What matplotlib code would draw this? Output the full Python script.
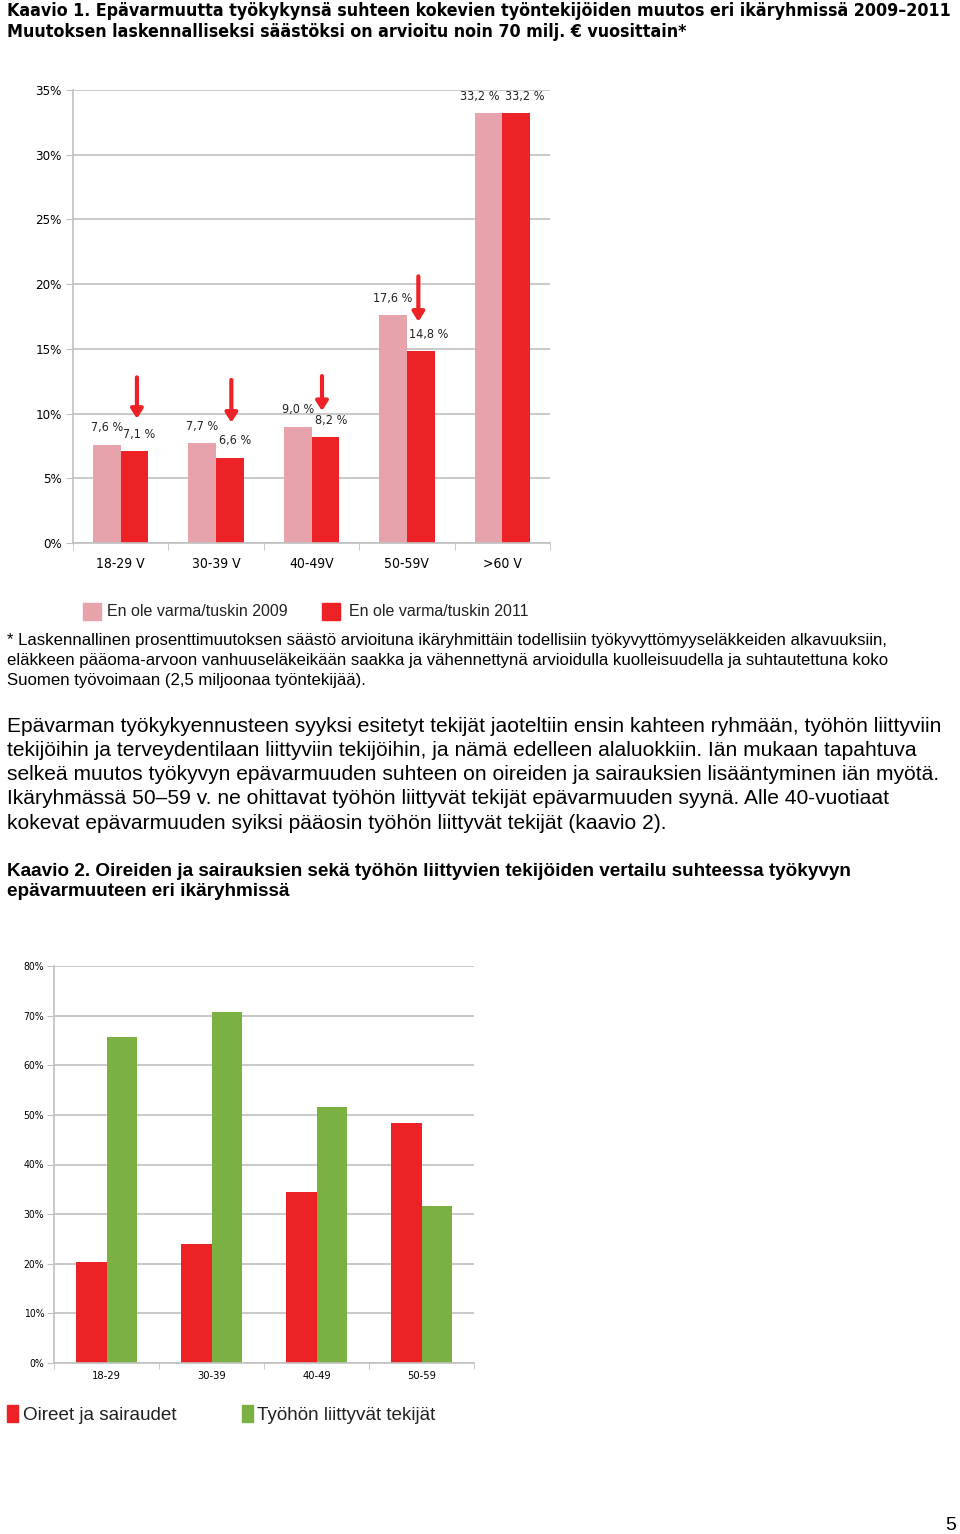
import matplotlib
matplotlib.use("Agg")
import matplotlib.pyplot as plt
from matplotlib import font_manager as fm
import numpy as np

# chart 1 data
groups1 = ["18-29 V", "30-39 V", "40-49V", "50-59V", ">60 V"]
v2009 = [7.6, 7.7, 9.0, 17.6, 33.2]
v2011 = [7.1, 6.6, 8.2, 14.8, 33.2]
labels2009 = ["7,6 %", "7,7 %", "9,0 %", "17,6 %", "33,2 %"]
labels2011 = ["7,1 %", "6,6 %", "8,2 %", "14,8 %", "33,2 %"]
# arrows showing the drop: (x in category units, top %, tip %)
arrows = [(0.17, 12.8, 9.6), (1.16, 12.6, 9.3), (2.11, 12.9, 10.2), (3.12, 20.6, 17.1)]

# chart 2 data
groups2 = ["18-29", "30-39", "40-49", "50-59"]
oireet = [20.3, 24.0, 34.5, 48.3]
tyo = [65.7, 70.7, 51.5, 31.6]

PINK = "#E6A3AB"
RED = "#EC2227"
GREEN = "#7AB142"
GRID = "#C0C0C0"
TXT = "#222222"


# look for a narrow / condensed face, otherwise plain Liberation Sans
def find_narrow(bold):
    for f in fm.fontManager.ttflist:
        cond = ("Narrow" in f.name or "Condensed" in f.name
                or f.stretch in ("condensed", "semi-condensed", "extra-condensed")
                or (isinstance(f.stretch, int) and f.stretch < 500))
        w = f.weight if isinstance(f.weight, int) else (700 if "bold" in str(f.weight) else 400)
        if cond and (w >= 600) == bold and f.style == "normal":
            return fm.FontProperties(fname=f.fname)
    return fm.FontProperties(family=["Liberation Sans", "DejaVu Sans"],
                             weight="bold" if bold else "normal")


NARROW = find_narrow(False)
NARROW_B = find_narrow(True)
SANS = fm.FontProperties(family=["Liberation Sans", "DejaVu Sans"])
SANS_B = fm.FontProperties(family=["Liberation Sans", "DejaVu Sans"], weight="bold")

W, H = 960, 1534
fig = plt.figure(figsize=(W / 100, H / 100), dpi=100)
renderer = fig.canvas.get_renderer()


def size_for(s, target_px, fp):
    # font size that makes string s about target_px wide
    t = fig.text(0, 0, s, fontproperties=fp.copy())
    t.set_fontsize(10)
    w = t.get_window_extent(renderer).width
    t.remove()
    return 10 * target_px / w


def fprop(fp, size):
    p = fp.copy()
    p.set_size(size)
    return p


def fy(py):
    return 1 - py / H


def style_axes(ax, ymax, step, fs, pad):
    ticks = np.arange(0, ymax + 0.1, step)
    ax.set_ylim(0, ymax)
    ax.set_yticks(ticks)
    ax.set_yticklabels([f"{int(t)}%" for t in ticks], fontproperties=fprop(NARROW, fs))
    ax.yaxis.grid(True, color=GRID, lw=1.2)
    ax.set_axisbelow(True)
    for s in ["top", "right"]:
        ax.spines[s].set_visible(False)
    for s in ["left", "bottom"]:
        ax.spines[s].set_color(GRID)
        ax.spines[s].set_linewidth(1.2)
    ax.tick_params(axis="y", length=5, color=GRID, pad=pad)
    ax.tick_params(axis="x", length=0)


# ---- chart 1
ax1 = fig.add_axes([73 / W, fy(543), (550 - 73) / W, (543 - 90) / H])
x1 = np.arange(len(groups1))
bw = 0.29
ax1.bar(x1 - bw / 2, v2009, bw, color=PINK, zorder=2)
ax1.bar(x1 + bw / 2, v2011, bw, color=RED, zorder=2)
ax1.set_xlim(-0.5, len(groups1) - 0.5)
style_axes(ax1, 35, 5, 9.5, 3)
ax1.set_xticks(x1)
ax1.set_xticklabels(groups1, fontproperties=fprop(NARROW, 10))
ax1.set_xticks(np.arange(-0.5, len(groups1)), minor=True)
ax1.tick_params(axis="x", which="minor", length=5, color=GRID)
ax1.tick_params(axis="x", which="major", pad=10)

vfs = 9
pink_dx = [0, 0, 0, 0, -9]
red_dx = [5, 5, 6, 8, 9]
for i in range(len(groups1)):
    ax1.annotate(labels2009[i], (x1[i] - bw / 2, v2009[i]), xytext=(pink_dx[i] * 0.72, 12),
                 textcoords="offset points", ha="center", va="center",
                 fontproperties=fprop(NARROW, vfs), color=TXT)
    ax1.annotate(labels2011[i], (x1[i] + bw / 2, v2011[i]), xytext=(red_dx[i] * 0.72, 12),
                 textcoords="offset points", ha="center", va="center",
                 fontproperties=fprop(NARROW, vfs), color=TXT)
for xa, top, tip in arrows:
    ax1.annotate("", xy=(xa, tip), xytext=(xa, top),
                 arrowprops=dict(arrowstyle="-|>,head_width=0.35,head_length=0.55",
                                 color=RED, lw=3, shrinkA=0, shrinkB=0))

# legend 1
lfs = size_for("En ole varma/tuskin 2009", 182, SANS)
fig.patches.append(plt.Rectangle((83 / W, fy(620)), 18 / W, 17 / H,
                                 transform=fig.transFigure, color=PINK))
fig.text(107 / W, fy(612), "En ole varma/tuskin 2009", fontproperties=fprop(SANS, lfs),
         va="center", color=TXT)
fig.patches.append(plt.Rectangle((322 / W, fy(620)), 18 / W, 17 / H,
                                 transform=fig.transFigure, color=RED))
fig.text(349 / W, fy(612), "En ole varma/tuskin 2011", fontproperties=fprop(SANS, lfs),
         va="center", color=TXT)

# ---- chart 2
ax2 = fig.add_axes([54 / W, fy(1363), (474 - 54) / W, (1363 - 966) / H])
x2 = np.arange(len(groups2))
bw2 = 0.286
ax2.bar(x2 - bw2 / 2, oireet, bw2, color=RED, zorder=2)
ax2.bar(x2 + bw2 / 2, tyo, bw2, color=GREEN, zorder=2)
ax2.set_xlim(-0.5, len(groups2) - 0.5)
style_axes(ax2, 80, 10, 7.5, 2)
ax2.set_xticks(x2)
ax2.set_xticklabels(groups2, fontproperties=fprop(NARROW, 8))
ax2.set_xticks(np.arange(-0.5, len(groups2)), minor=True)
ax2.tick_params(axis="x", which="minor", length=4, color=GRID)
ax2.tick_params(axis="x", which="major", pad=6)

# legend 2
l2fs = size_for("Oireet ja sairaudet", 155, SANS)
fig.patches.append(plt.Rectangle((7 / W, fy(1422)), 11 / W, 17 / H,
                                 transform=fig.transFigure, color=RED))
fig.text(23 / W, fy(1415), "Oireet ja sairaudet", fontproperties=fprop(SANS, l2fs),
         va="center", color=TXT)
fig.patches.append(plt.Rectangle((242 / W, fy(1422)), 11 / W, 17 / H,
                                 transform=fig.transFigure, color=GREEN))
fig.text(257 / W, fy(1415), "Työhön liittyvät tekijät", fontproperties=fprop(SANS, l2fs),
         va="center", color=TXT)

# ---- page texts
title1 = ("Kaavio 1. Epävarmuutta työkykynsä suhteen kokevien "
          "työntekijöiden muutos eri ikäryhmissä 2009–2011")
title2 = "Muutoksen laskennalliseksi säästöksi on arvioitu noin 70 milj. € vuosittain*"
tfs = size_for(title1, 938, NARROW_B)
fig.text(7 / W, fy(11), title1, fontproperties=fprop(NARROW_B, tfs), va="center")
fig.text(7 / W, fy(32), title2, fontproperties=fprop(NARROW_B, tfs), va="center")

foot = [
    "* Laskennallinen prosenttimuutoksen säästö arvioituna ikäryhmittäin "
    "todellisiin työkyvyttömyyseläkkeiden alkavuuksiin,",
    "eläkkeen pääoma-arvoon vanhuuseläkeikään saakka ja vähennettynä "
    "arvioidulla kuolleisuudella ja suhtautettuna koko",
    "Suomen työvoimaan (2,5 miljoonaa työntekijää).",
]
ffs = size_for(foot[0], 880, SANS)
for i, line in enumerate(foot):
    fig.text(7 / W, fy(641 + 20 * i), line, fontproperties=fprop(SANS, ffs), va="center")

para = [
    "Epävarman työkykyennusteen syyksi esitetyt tekijät jaoteltiin ensin "
    "kahteen ryhmään, työhön liittyviin",
    "tekijöihin ja terveydentilaan liittyviin tekijöihin, ja nämä edelleen "
    "alaluokkiin. Iän mukaan tapahtuva",
    "selkeä muutos työkyvyn epävarmuuden suhteen on oireiden ja sairauksien "
    "lisääntyminen iän myötä.",
    "Ikäryhmässä 50–59 v. ne ohittavat työhön liittyvät tekijät "
    "epävarmuuden syynä. Alle 40-vuotiaat",
    "kokevat epävarmuuden syiksi pääosin työhön liittyvät tekijät (kaavio 2).",
]
pfs = size_for(para[0], 935, SANS)
for i, line in enumerate(para):
    fig.text(7 / W, fy(726 + 24.3 * i), line, fontproperties=fprop(SANS, pfs), va="center")

head2 = ("Kaavio 2. Oireiden ja sairauksien sekä työhön "
         "liittyvien tekijöiden vertailu suhteessa työkyvyn")
hfs = size_for(head2, 845, SANS_B)
fig.text(7 / W, fy(871), head2, fontproperties=fprop(SANS_B, hfs), va="center")
fig.text(7 / W, fy(892), "epävarmuuteen eri ikäryhmissä", fontproperties=fprop(SANS_B, hfs),
         va="center")

fig.text(951 / W, fy(1526), "5", fontproperties=fprop(SANS, 14), ha="center", va="center")

fig.savefig("out.png", dpi=100)
